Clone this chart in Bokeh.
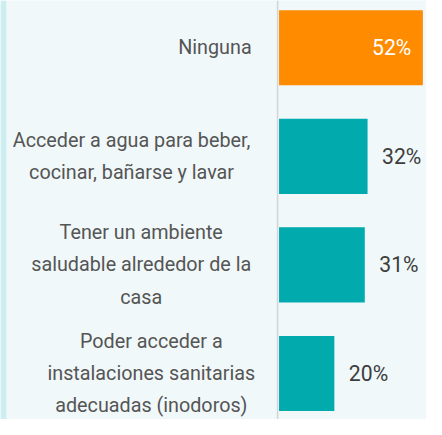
import numpy as np
from bokeh.plotting import figure
from bokeh.models import ColumnDataSource, Range1d, Span, BoxAnnotation
from bokeh.core.properties import value
from bokeh.embed import file_html
from bokeh.resources import INLINE

# ---- data ----
categories = [
    "Ninguna",
    "Acceder a agua para beber,\ncocinar, bañarse y lavar",
    "Tener un ambiente\nsaludable alrededor de la\ncasa",
    "Poder acceder a\ninstalaciones sanitarias\nadecuadas (inodoros)",
]
values = [52, 32, 31, 20]
value_labels = ["52%", "32%", "31%", "20%"]

# ---- layout / style ----
W, H = 426, 419
F = W / 442.0               # scale from the 442 px wide design to the figure
BG = "#f0f8fa"
STRIPE = "#cdeef0"
ORANGE = "#ff8c00"
TEAL = "#00aaad"
FONT = "Roboto"

px_per_unit = 2.87 * F      # horizontal scale (px per percent)
axis_px = 289 * F           # x=0 position in pixels
row_px = 112.67 * F         # vertical pitch between rows
first_row_px = 49 * F       # centre of first row from top
bar_h_px = 78 * F

x_start = -axis_px / px_per_unit
x_end = (W - axis_px) / px_per_unit
y_top = -first_row_px / row_px
y_bottom = y_top + H / row_px

idx = np.arange(len(categories))
colors = [ORANGE if i == 0 else TEAL for i in idx]

# label block centres (design px, relative to axis)
label_dx_px = [222.5 - 289, 136 - 289, 146 - 289, 156.5 - 289]
label_x = [d * F / px_per_unit for d in label_dx_px]

inside = [v == max(values) for v in values]
lbl_align = ["right" if f else "left" for f in inside]
lbl_offset = [(-12 if f else 15) * F for f in inside]
lbl_color = ["#ffffff" if f else "#3d3d3d" for f in inside]

src = ColumnDataSource(dict(
    y=idx, v=values, c=colors, cat=categories, lx=label_x,
    vl=value_labels, al=lbl_align, xo=lbl_offset, lc=lbl_color,
))

p = figure(
    width=W, height=H,
    x_range=Range1d(x_start, x_end),
    y_range=Range1d(y_bottom, y_top),
    output_backend="svg", toolbar_location=None,
    min_border=0, min_border_left=0, min_border_right=0,
    min_border_top=0, min_border_bottom=0,
)
p.axis.visible = False
p.grid.visible = False
p.outline_line_color = None
p.background_fill_color = BG
p.border_fill_color = BG

p.add_layout(BoxAnnotation(left=0, right=6 * F, left_units="screen", right_units="screen",
                           fill_color=STRIPE, fill_alpha=1, line_color=None,
                           level="underlay"))
p.add_layout(Span(location=-1.5 * F / px_per_unit, dimension="height",
                  line_color="#d4d4d4", line_width=1.5, level="underlay"))

p.hbar(y="y", left=0, right="v", height=bar_h_px / row_px, fill_color="c",
       line_color=None, source=src)

p.text(x="lx", y="y", text="cat", source=src, text_align="center",
       text_baseline="middle", text_font=value(FONT),
       text_font_size=f"{20.5 * F:.2f}px",
       text_color="#555555", text_line_height=1.41)

p.text(x="v", y="y", text="vl", source=src, text_align="al", x_offset="xo",
       text_baseline="middle", text_font=value(FONT),
       text_font_size=f"{22 * F:.2f}px",
       text_color="lc")

open("out.html", "w").write(file_html(p, INLINE))
